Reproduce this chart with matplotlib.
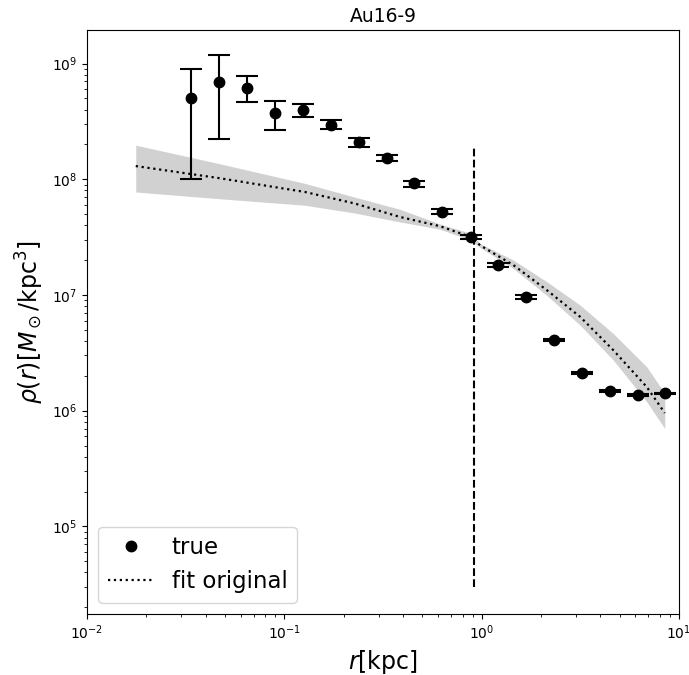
import matplotlib
matplotlib.use("Agg")
import matplotlib.pyplot as plt
import numpy as np

# ---- data ----
r_true = [0.0337, 0.0469, 0.0649, 0.0900, 0.124, 0.1726, 0.238, 0.330, 0.456,
          0.632, 0.881, 1.216, 1.68, 2.33, 3.23, 4.48, 6.21, 8.53]
rho_true = [5.0e8, 6.9e8, 6.15e8, 3.7e8, 3.94e8, 2.97e8, 2.08e8, 1.53e8, 9.2e7,
            5.26e7, 3.17e7, 1.83e7, 9.6e6, 4.11e6, 2.12e6, 1.47e6, 1.37e6, 1.41e6]
rho_lo = [1.0e8, 2.23e8, 4.66e8, 2.69e8, 3.45e8, 2.72e8, 1.90e8, 1.43e8, 8.57e7,
          4.96e7, 3.05e7, 1.76e7, 9.23e6, 4.0e6, 2.08e6, 1.44e6, 1.35e6, 1.39e6]
rho_hi = [8.9e8, 1.18e9, 7.77e8, 4.72e8, 4.45e8, 3.24e8, 2.26e8, 1.62e8, 9.66e7,
          5.5e7, 3.3e7, 1.905e7, 9.93e6, 4.2e6, 2.16e6, 1.5e6, 1.39e6, 1.43e6]

r_fit = [0.01766, 0.0472, 0.1273, 0.2277, 0.3856, 0.615, 0.881, 0.981, 1.449,
         2.14, 3.16, 4.65, 6.87, 8.47]
rho_fit = [1.30e8, 1.02e8, 7.76e7, 6.17e7, 4.72e7, 3.93e7, 3.17e7, 2.69e7, 1.81e7,
           1.10e7, 6.46e6, 3.33e6, 1.60e6, 9.55e5]
rho_fit_hi = [1.97e8, 1.36e8, 9.2e7, 7.0e7, 5.5e7, 4.1e7, 3.41e7, 2.78e7, 2.0e7,
              1.30e7, 8.15e6, 4.63e6, 2.39e6, 1.41e6]
rho_fit_lo = [7.76e7, 6.78e7, 5.96e7, 5.1e7, 4.28e7, 3.7e7, 2.97e7, 2.57e7, 1.69e7,
              9.9e6, 5.47e6, 2.73e6, 1.19e6, 7.0e5]

r_cut = 0.915
vline_ymin, vline_ymax = 3e4, 1.9e8

title = "Au16-9"

# ---- plot ----
fig = plt.figure(figsize=(6.89, 6.75), dpi=100)
ax = fig.add_axes([0.1263, 0.0904, 0.8592, 0.8652])

rt = np.array(r_true)
yt = np.array(rho_true)
yerr = np.vstack([yt - np.array(rho_lo), np.array(rho_hi) - yt])

ax.fill_between(r_fit, rho_fit_lo, rho_fit_hi, color="0.82", linewidth=0, zorder=1)
ax.plot(r_fit, rho_fit, ls=":", color="black", lw=1.6, label="fit original", zorder=3)
ax.errorbar(rt, yt, yerr=yerr, fmt="none", ecolor="black", elinewidth=1.5,
            capsize=8, capthick=1.5, zorder=4)
ax.plot(rt, yt, "o", color="black", markersize=7.5, label="true", zorder=5, ls="none")
ax.vlines(r_cut, vline_ymin, vline_ymax, colors="black", linestyles="--", lw=1.5, zorder=2)

ax.set_xscale("log")
ax.set_yscale("log")
ax.set_xlim(1e-2, 1e1)
ax.set_ylim(1.75e4, 1.95e9)
ax.tick_params(labelsize=10)
ax.set_xlabel(r"$r$[kpc]", fontsize=17)
ax.set_ylabel(r"$\rho(r)[M_\odot/\mathrm{kpc}^3]$", fontsize=17)
ax.set_title(title, fontsize=13.5)

handles, labels = ax.get_legend_handles_labels()
order = [labels.index("true"), labels.index("fit original")]
ax.legend([handles[i] for i in order], [labels[i] for i in order],
          loc="lower left", fontsize=16.5)

fig.savefig("out.png", dpi=100)
